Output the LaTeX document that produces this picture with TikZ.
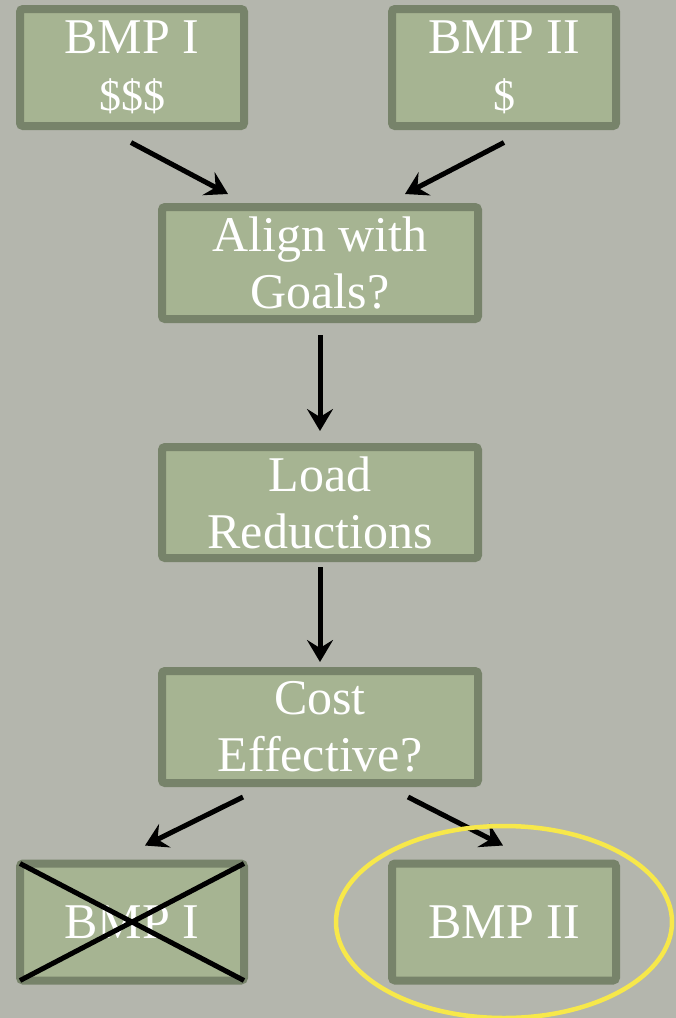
\documentclass[tikz,border=0pt]{standalone}
\usepackage{fontspec}
\setmainfont{Liberation Serif}
\usepackage{xcolor}
\usepackage{tikz}
\usetikzlibrary{arrows.meta}
\definecolor{slate}{RGB}{180,182,173}
\definecolor{sage}{RGB}{166,180,146}
\definecolor{moss}{RGB}{119,131,106}
\definecolor{marker}{RGB}{247,232,74}

\begin{document}
\begin{tikzpicture}[x=1pt, y=-1pt, font=\fontsize{50}{57}\selectfont, box/.style={draw=moss, line width=8pt, fill=sage, rounded corners=3pt, text=white, align=center, inner sep=0pt, outer sep=0pt}, arr/.style={-{Stealth[length=22pt, width=26pt, inset=8pt]}, line width=5pt}]
\useasboundingbox[fill=slate] (0,0) rectangle (676,1018);
\node[box, minimum width=224pt, minimum height=117pt] (bmpa) at (132,67.5) {BMP I\\{\fontsize{44}{50}\selectfont \$\$\$}};
\node[box, minimum width=224pt, minimum height=117pt] (bmpb) at (504,67.5) {BMP II\\{\fontsize{44}{50}\selectfont \$}};
\node[box, minimum width=316pt, minimum height=112pt] (align) at (320,263) {Align with\\Goals?};
\node[box, minimum width=316pt, minimum height=111pt] (load) at (320,502.5) {Load\\Reductions};
\node[box, minimum width=316pt, minimum height=112pt] (cost) at (320,727) {Cost\\Effective?};
\node[box, minimum width=224pt, minimum height=117pt] (outa) at (132,922) {BMP I};
\node[box, minimum width=224pt, minimum height=117pt] (outb) at (504,922) {BMP II};
\draw[arr] ([xshift=-1pt, yshift=-16.5pt]bmpa.south) -- ([xshift=-92pt, yshift=13pt]align.north);
\draw[arr] ([yshift=-16.5pt]bmpb.south) -- ([xshift=85pt, yshift=13pt]align.north);
\draw[arr] ([yshift=-16pt]align.south) -- ([yshift=16pt]load.north);
\draw[arr] ([yshift=-9pt]load.south) -- ([yshift=9pt]cost.north);
\draw[arr] ([xshift=-77pt, yshift=-14pt]cost.south) -- ([xshift=13pt, yshift=18pt]outa.north);
\draw[arr] ([xshift=88pt, yshift=-14pt]cost.south) -- ([xshift=-1pt, yshift=18pt]outb.north);
% ruled out
\draw[line width=5pt] (outa.north west) -- (outa.south east);
\draw[line width=5pt] (outa.south west) -- (outa.north east);
% chosen
\draw[marker, line width=4.5pt] (outb) ellipse [x radius=168pt, y radius=96pt];
\end{tikzpicture}
\end{document}
